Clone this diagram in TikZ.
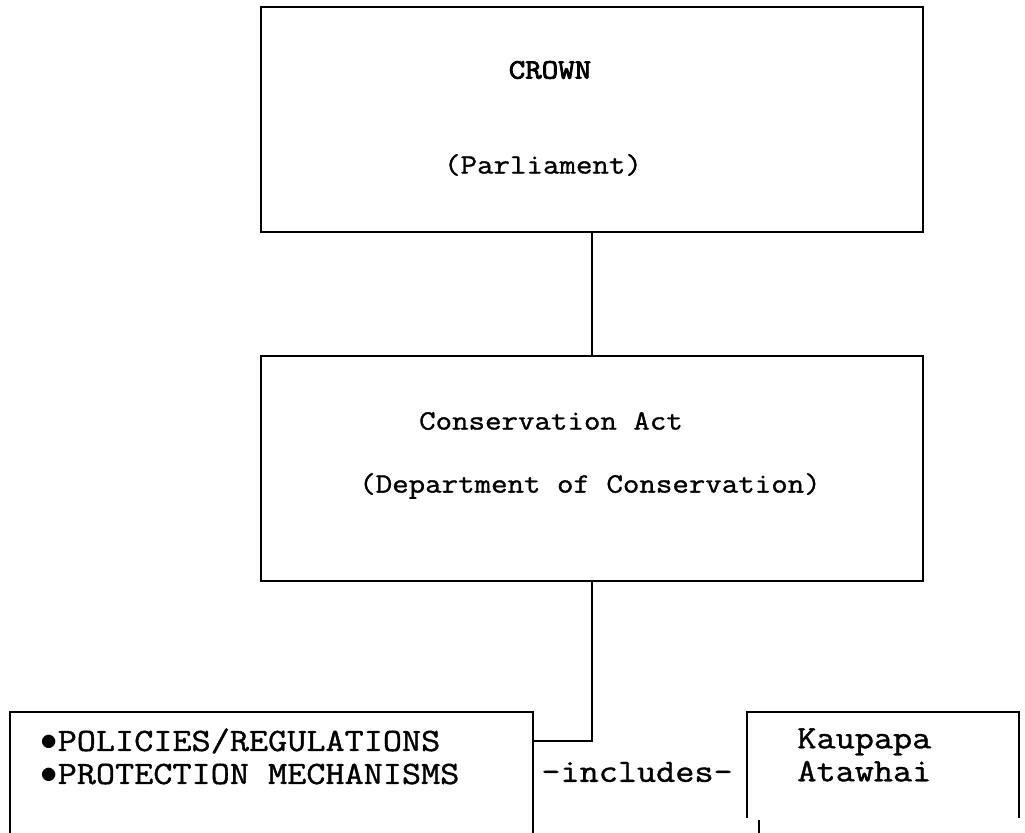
\documentclass[tikz,border=0pt]{standalone}
\usepackage{fontspec}
\newfontfamily\typer{Latin Modern Mono}[FakeBold=1.2,FakeStretch=1.143]
\newfontfamily\typerbold{Latin Modern Mono}[FakeBold=3,FakeStretch=1.143]
\usetikzlibrary{positioning}
\begin{document}
\begin{tikzpicture}[x=0.5pt,y=-0.5pt,
    frame/.style={draw,line width=1.3pt,minimum width=331pt,minimum height=112.5pt},
    label/.style={font=\typer\fontsize{14}{20}\selectfont,inner sep=0pt},
    biglabel/.style={font=\typer\fontsize{16.25}{16.5}\selectfont,inner sep=0pt,align=left,anchor=north west},
    wire/.style={line width=1.3pt}]
    \useasboundingbox (0,0) rectangle (1025,833);
    
    % top boxes
    \node[frame] (crown) at (592,119.5) {};
    \node[label,font=\typerbold\fontsize{14}{20}\selectfont] (crowntxt) at (550,70) {CROWN};
    \node[label] (parl) at (543,165) {(Parliament)};
    
    \node[frame] (act) at (592,468.5) {};
    \node[label] (acttxt) at (551,421) {Conservation Act};
    \node[label] (doc) at (590,486) {(Department of Conservation)};
    
    % bottom boxes, cut off by the page
    \draw[wire] (10,833) -- (10,712) -- (533,712) -- (533,833);
    \coordinate (rules) at (533,741);
    \node[biglabel] (rulestxt) at (40,728) {$\bullet$POLICIES/REGULATIONS\\$\bullet$PROTECTION MECHANISMS};
    
    \draw[wire] (747,818) -- (747,712) -- (1019,712) -- (1019,818);
    \node[biglabel] (kaupapa) at (797,728) {Kaupapa\\Atawhai};
    \node[biglabel,anchor=west] (incl) at (541,772) {-includes-};
    
    % connectors
    \draw[wire] (crown.south) -- (act.north);
    \draw[wire] (act.south) |- (rules);
    \coordinate (tick) at (759,820);
    \draw[wire] (tick) -- ++(0,13);
\end{tikzpicture}
\end{document}
